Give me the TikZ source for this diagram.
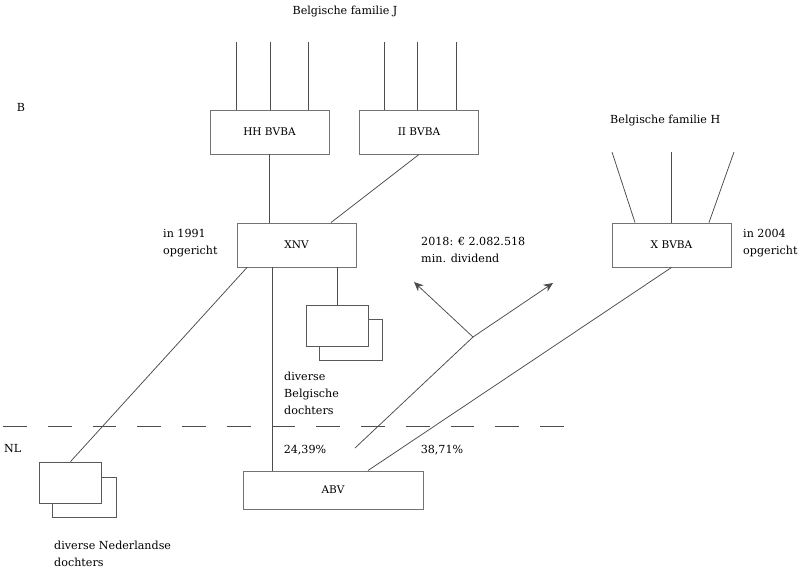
\documentclass[tikz,border=0pt]{standalone}
\usepackage{fontspec}
\setmainfont{DejaVu Serif}
\usetikzlibrary{arrows.meta}

\begin{document}
\begin{tikzpicture}[x=0.03cm, y=-0.03cm,
            box/.style={rectangle, draw=black!55, fill=white, line width=0.8pt, minimum width=3.57cm, minimum height=1.32cm, font=\fontsize{9}{10}\selectfont},
            sub/.style={rectangle, draw=black!65, fill=white, line width=0.7pt, minimum width=1.85cm, minimum height=1.23cm},
            link/.style={draw=black!70, line width=0.65pt},
            arrow/.style={link, -{Stealth[length=8pt, width=7pt]}},
            lbl/.style={font=\fontsize{9.5}{14.5}\selectfont, align=left, text=black, inner sep=0pt},
            border/.style={draw=black!70, line width=0.7pt, dash pattern=on 20.4pt off 17.8pt}
        ]
            \useasboundingbox (0,0) rectangle (800,574);

            % Country labels and border
            \node[lbl] (be) at (21,107) {B};
            \node[lbl, anchor=west] (nl) at (4,449) {NL};
            \coordinate (borderW) at (3,426);
            \coordinate (borderE) at (570,426);
            \draw[border] (borderW) -- (borderE);

            % Family J holding companies
            \node[lbl] (famJ) at (345,12) {Belgische familie J};
            \node[box] (hh) at (269.5,132) {HH BVBA};
            \node[box] (ii) at (419,132) {II BVBA};
            \foreach \x [count=\i] in {236,270,308} {
                \coordinate (hhtop\i) at (\x,42);
                \draw[link] (hhtop\i) -- (hhtop\i |- hh.north);
            }
            \foreach \x [count=\i] in {384,417,456} {
                \coordinate (iitop\i) at (\x,42);
                \draw[link] (iitop\i) -- (iitop\i |- ii.north);
            }

            % XNV
            \node[box] (xnv) at (296.5,245) {XNV};
            \node[lbl, anchor=west] (xnvdate) at (163,243) {in 1991\\opgericht};
            \draw[link] (hh.south) -- (xnv.north -| hh.south);
            \draw[link] (ii.south) -- (xnv.north -| 331,0);

            % Belgian subsidiaries
            \node[sub, minimum width=1.89cm] (beback) at (350.5,339.5) {};
            \node[sub] (befront) at (337.5,325.5) {};
            \node[lbl, anchor=west] (betext) at (284,393) {diverse\\Belgische\\dochters};
            \draw[link] (xnv.south -| befront.north) -- (befront.north);

            % Dutch subsidiaries
            \node[sub, minimum width=1.92cm, minimum height=1.2cm] (nlback) at (84,497) {};
            \node[sub] (nlfront) at (70.5,482.5) {};
            \node[lbl, anchor=west] (nltext) at (54,554) {diverse Nederlandse\\dochters};
            \draw[link] (xnv.south -| 247,0) -- (nlfront.north);

            % Family H holding company
            \node[lbl, anchor=west] (famH) at (610,121) {Belgische familie H};
            \node[box] (xbvba) at (671.5,245) {X BVBA};
            \node[lbl, anchor=west] (xdate) at (743,243) {in 2004\\opgericht};
            \coordinate (htop1) at (612,152);
            \coordinate (htop2) at (671,152);
            \coordinate (htop3) at (734,152);
            \draw[link] (htop1) -- (xbvba.north -| 635,0);
            \draw[link] (htop2) -- (xbvba.north -| htop2);
            \draw[link] (htop3) -- (xbvba.north -| 709,0);

            % ABV
            \node[box, minimum width=5.4cm, minimum height=1.14cm] (abv) at (333,490) {ABV};
            \draw[link] (xnv.south -| 272,0) -- (abv.north -| 272,0);
            \draw[link] (abv.north -| 368,0) -- (xbvba.south);
            \node[lbl] (pctA) at (305,450) {24,39\%};
            \node[lbl] (pctB) at (442,450) {38,71\%};

            % Dividend flow
            \coordinate (divstart) at (355,448);
            \coordinate (split) at (473,337);
            \coordinate (tipA) at (414,282);
            \coordinate (tipB) at (553,283);
            \draw[link] (divstart) -- (split);
            \draw[arrow] (split) -- (tipA);
            \draw[arrow] (split) -- (tipB);
            \node[lbl, anchor=west] (divtext) at (421,250) {2018: € 2.082.518\\min. dividend};
        \end{tikzpicture}
\end{document}
